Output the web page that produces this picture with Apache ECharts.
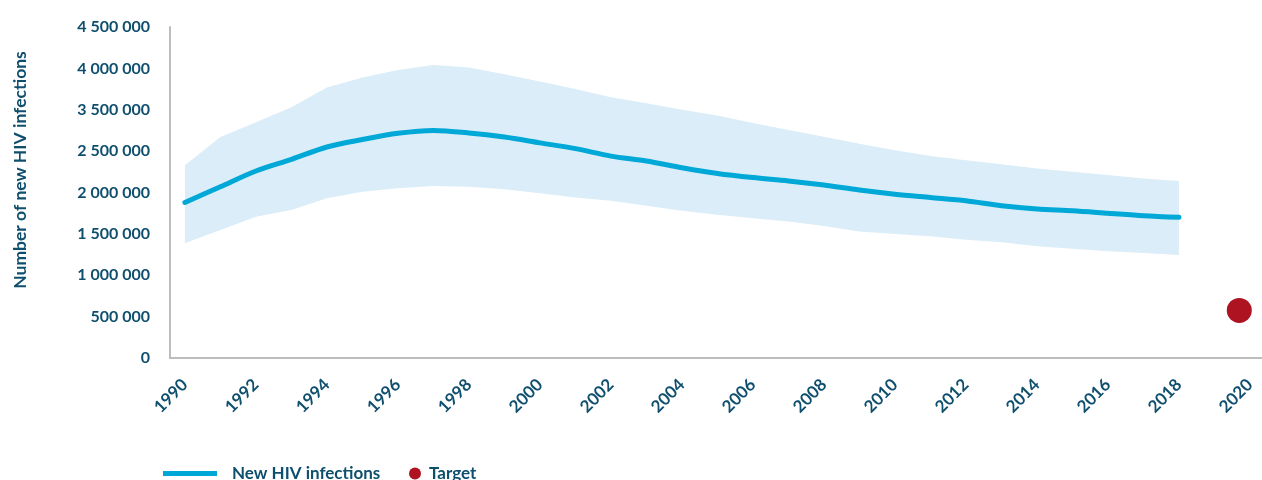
<!DOCTYPE html>
<html>
<head>
<meta charset="utf-8">
<script src="https://cdn.jsdelivr.net/npm/echarts@6/dist/echarts.min.js"></script>
<style>
html,body{margin:0;padding:0;background:#fff;}
#chart{width:1262px;height:480px;}
</style>
</head>
<body>
<div id="chart"></div>
<script>
var years = [1990,1991,1992,1993,1994,1995,1996,1997,1998,1999,2000,2001,2002,2003,2004,2005,2006,2007,2008,2009,2010,2011,2012,2013,2014,2015,2016,2017,2018];
var newInfections = [1880000,2070000,2260000,2400000,2550000,2640000,2715000,2750000,2720000,2670000,2600000,2530000,2440000,2380000,2300000,2230000,2180000,2140000,2090000,2030000,1980000,1940000,1900000,1840000,1800000,1780000,1750000,1720000,1700000];
var upperBound = [2330000,2670000,2850000,3030000,3270000,3390000,3480000,3540000,3510000,3430000,3340000,3250000,3150000,3080000,3000000,2930000,2840000,2755000,2675000,2590000,2510000,2440000,2390000,2340000,2290000,2250000,2210000,2170000,2140000];
var lowerBound = [1386000,1547000,1708000,1789000,1930000,2010000,2050000,2080000,2070000,2040000,1990000,1940000,1900000,1840000,1780000,1730000,1690000,1650000,1595000,1530000,1500000,1470000,1430000,1400000,1350000,1320000,1290000,1270000,1245000];
var targetYear = [2019.7];
var targetValue = [575000];
var xTickYears = [1990,1992,1994,1996,1998,2000,2002,2004,2006,2008,2010,2012,2014,2016,2018,2020];
var yTickLabels = ['0','500 000','1 000 000','1 500 000','2 000 000','2 500 000','3 500 000','4 000 000','4 500 000'];

var textColor = '#0f4f6e';
var lineColor = '#00a8d8';
var bandColor = '#dbedf8';
var targetColor = '#ae1322';
var fontFam = 'Lato, "Noto Sans", sans-serif';

var chart = echarts.init(document.getElementById('chart'), null, {renderer:'canvas'});
var option = {
  animation: false,
  grid: {left: 170, right: 0, top: 27, bottom: 122, containLabel: false, outerBoundsMode: 'none'},
  xAxis: {
    type: 'value',
    min: 1989.58,
    max: 2020.34,
    splitLine: {show: false},
    axisTick: {show: false},
    axisLine: {show: true, lineStyle: {color: '#bdbdbd', width: 2}},
    axisLabel: {
      customValues: xTickYears,
      rotate: 45,
      margin: 24,
      color: textColor,
      fontFamily: fontFam,
      fontWeight: 'bold',
      fontSize: 17,
      formatter: function (v) { return String(Math.round(v)); }
    }
  },
  yAxis: {
    type: 'value',
    min: 0,
    max: 4000000,
    interval: 500000,
    name: 'Number of new HIV infections',
    nameLocation: 'middle',
    nameGap: 141,
    nameTextStyle: {color: textColor, fontFamily: fontFam, fontWeight: 'bold', fontSize: 17.5, padding: [0, 0, 0, 45]},
    splitLine: {show: false},
    axisTick: {show: false},
    axisLine: {show: true, lineStyle: {color: '#bdbdbd', width: 2}},
    axisLabel: {
      margin: 20,
      color: textColor,
      fontFamily: fontFam,
      fontWeight: 'bold',
      fontSize: 16,
      formatter: function (v) { return yTickLabels[Math.round(v / 500000)]; }
    }
  },
  legend: [
    {
      left: 158, top: 460,
      itemWidth: 54, itemHeight: 5,
      textStyle: {color: textColor, fontFamily: fontFam, fontWeight: 'bold', fontSize: 17, padding: [0,0,0,10]},
      data: [{name: 'New HIV infections', icon: 'rect', itemStyle: {color: lineColor}}]
    },
    {
      left: 404, top: 460,
      itemWidth: 12, itemHeight: 12,
      textStyle: {color: textColor, fontFamily: fontFam, fontWeight: 'bold', fontSize: 17, padding: [0,0,0,3]},
      data: [{name: 'Target', icon: 'circle', itemStyle: {color: targetColor}}]
    }
  ],
  series: [
    {
      name: 'Range',
      type: 'custom',
      silent: true,
      z: 1,
      data: years.map(function (y, i) { return [y, lowerBound[i], upperBound[i]]; }),
      encode: {x: 0, y: [1, 2]},
      renderItem: function (params, api) {
        if (params.dataIndex !== 0) return null;
        var pts = [];
        for (var i = 0; i < years.length; i++) pts.push(api.coord([years[i], upperBound[i]]));
        for (var j = years.length - 1; j >= 0; j--) pts.push(api.coord([years[j], lowerBound[j]]));
        return {type: 'polygon', shape: {points: pts}, style: {fill: bandColor}};
      }
    },
    {
      name: 'New HIV infections',
      type: 'line',
      z: 3,
      smooth: 0.3,
      showSymbol: false,
      symbol: 'none',
      lineStyle: {color: lineColor, width: 5, cap: 'round'},
      itemStyle: {color: lineColor},
      data: years.map(function (y, i) { return [y, newInfections[i]]; })
    },
    {
      name: 'Target',
      type: 'scatter',
      z: 4,
      symbolSize: 25,
      itemStyle: {color: targetColor, opacity: 1},
      data: targetYear.map(function (y, i) { return [y, targetValue[i]]; })
    }
  ]
};
chart.setOption(option);
</script>
</body>
</html>
